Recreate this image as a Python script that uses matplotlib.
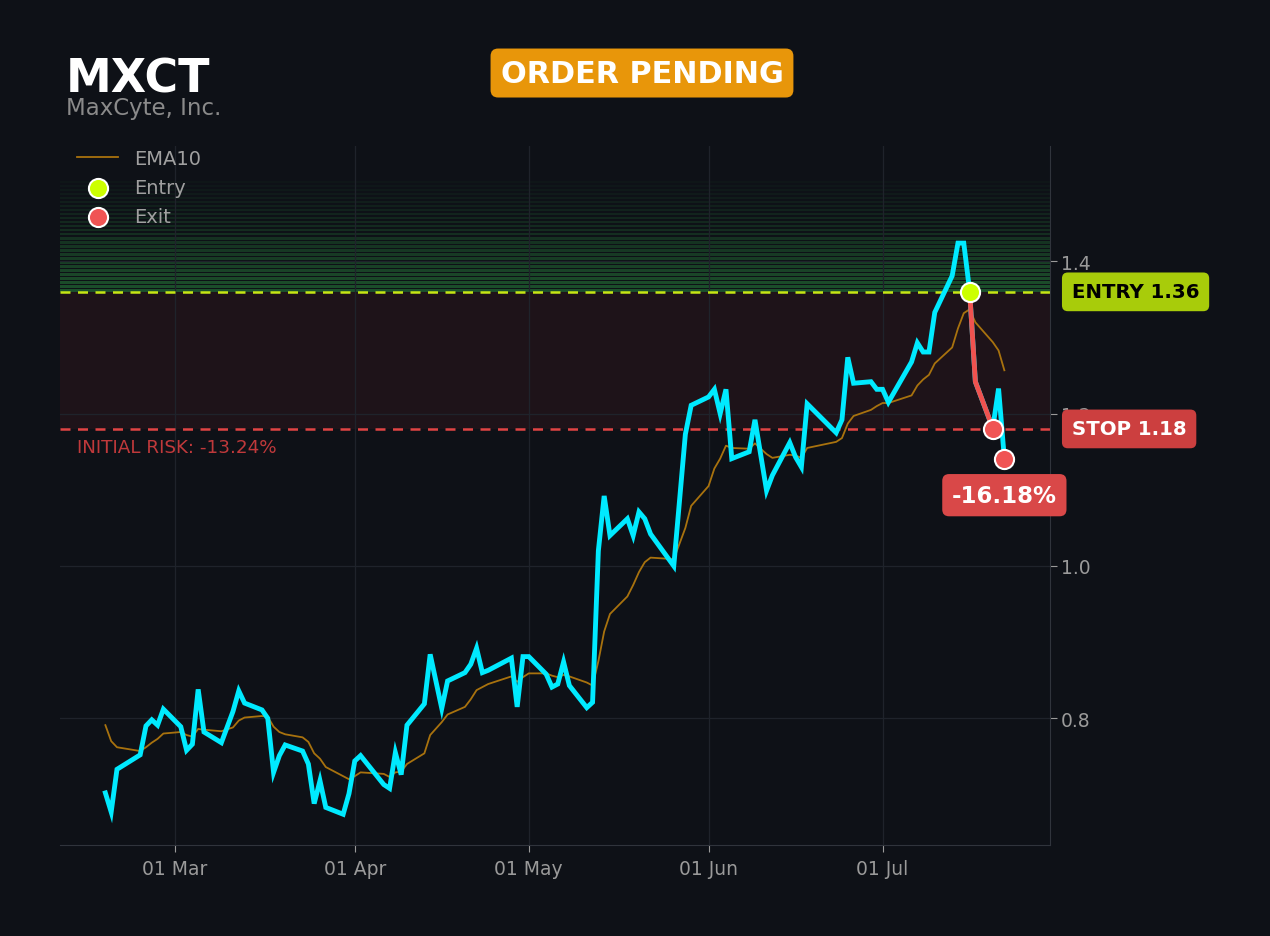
import numpy as np
import pandas as pd
import matplotlib
matplotlib.use("Agg")
import matplotlib.pyplot as plt
import matplotlib.dates as mdates

# --- data (MXCT daily closes + EMA10) ---
dates = ["2026-02-17", "2026-02-18", "2026-02-19", "2026-02-23", "2026-02-24", "2026-02-25",
         "2026-02-26", "2026-02-27", "2026-03-02", "2026-03-03", "2026-03-04", "2026-03-05",
         "2026-03-06", "2026-03-09", "2026-03-11", "2026-03-12", "2026-03-13", "2026-03-16",
         "2026-03-17", "2026-03-18", "2026-03-19", "2026-03-20", "2026-03-23", "2026-03-24",
         "2026-03-25", "2026-03-26", "2026-03-27", "2026-03-30", "2026-03-31", "2026-04-01",
         "2026-04-02", "2026-04-06", "2026-04-07", "2026-04-08", "2026-04-09", "2026-04-10",
         "2026-04-13", "2026-04-14", "2026-04-16", "2026-04-17", "2026-04-20", "2026-04-21",
         "2026-04-22", "2026-04-23", "2026-04-24", "2026-04-28", "2026-04-29", "2026-04-30",
         "2026-05-01", "2026-05-04", "2026-05-05", "2026-05-06", "2026-05-07", "2026-05-08",
         "2026-05-11", "2026-05-12", "2026-05-13", "2026-05-14", "2026-05-15", "2026-05-18",
         "2026-05-19", "2026-05-20", "2026-05-21", "2026-05-22", "2026-05-26", "2026-05-28",
         "2026-05-29", "2026-06-01", "2026-06-02", "2026-06-03", "2026-06-04", "2026-06-05",
         "2026-06-08", "2026-06-09", "2026-06-11", "2026-06-12", "2026-06-15", "2026-06-16",
         "2026-06-17", "2026-06-18", "2026-06-23", "2026-06-24", "2026-06-25", "2026-06-26",
         "2026-06-29", "2026-06-30", "2026-07-01", "2026-07-02", "2026-07-06", "2026-07-07",
         "2026-07-08", "2026-07-09", "2026-07-10", "2026-07-13", "2026-07-14", "2026-07-15",
         "2026-07-16", "2026-07-17", "2026-07-20", "2026-07-21", "2026-07-22"]

close = [0.702, 0.677, 0.733, 0.752, 0.790, 0.798, 0.791, 0.812, 0.789, 0.758, 0.766, 0.838,
         0.782, 0.768, 0.809, 0.836, 0.820, 0.811, 0.800, 0.729, 0.751, 0.765, 0.757, 0.740,
         0.688, 0.718, 0.683, 0.674, 0.701, 0.744, 0.751, 0.713, 0.708, 0.755, 0.726, 0.791,
         0.819, 0.884, 0.813, 0.849, 0.860, 0.871, 0.892, 0.860, 0.863, 0.879, 0.815, 0.881,
         0.881, 0.858, 0.841, 0.845, 0.874, 0.843, 0.814, 0.821, 1.020, 1.092, 1.040, 1.062,
         1.040, 1.071, 1.062, 1.042, 1.000, 1.173, 1.211, 1.222, 1.232, 1.200, 1.232, 1.141,
         1.150, 1.192, 1.099, 1.119, 1.162, 1.143, 1.130, 1.213, 1.175, 1.192, 1.274, 1.240,
         1.242, 1.232, 1.232, 1.215, 1.268, 1.293, 1.281, 1.281, 1.333, 1.381, 1.424, 1.424,
         1.362, 1.242, 1.181, 1.233, 1.141]

ema10 = [0.791, 0.770, 0.762, 0.757, 0.762, 0.768, 0.773, 0.780, 0.782, 0.778, 0.776, 0.786,
         0.785, 0.783, 0.788, 0.797, 0.801, 0.803, 0.802, 0.789, 0.782, 0.779, 0.775, 0.769,
         0.754, 0.747, 0.736, 0.724, 0.720, 0.724, 0.729, 0.727, 0.723, 0.729, 0.730, 0.740,
         0.754, 0.778, 0.795, 0.805, 0.815, 0.825, 0.837, 0.841, 0.845, 0.855, 0.848, 0.854,
         0.859, 0.859, 0.856, 0.854, 0.857, 0.855, 0.847, 0.843, 0.875, 0.914, 0.937, 0.960,
         0.975, 0.992, 1.005, 1.011, 1.009, 1.050, 1.079, 1.105, 1.128, 1.141, 1.158, 1.155,
         1.154, 1.161, 1.147, 1.142, 1.146, 1.145, 1.142, 1.155, 1.163, 1.168, 1.187, 1.197,
         1.205, 1.210, 1.214, 1.214, 1.224, 1.237, 1.245, 1.251, 1.266, 1.287, 1.312, 1.332,
         1.337, 1.320, 1.294, 1.283, 1.257]

ticker = "MXCT"
company = "MaxCyte, Inc."
entry_price = 1.36
stop_price = 1.18
entry_date = "2026-07-16"
exit_dates = ["2026-07-20", "2026-07-22"]
exit_prices = [1.18, 1.14]
trade_dates = ["2026-07-16", "2026-07-17", "2026-07-20"]
trade_prices = [1.362, 1.242, 1.181]

dates = pd.to_datetime(dates)
BG = "#0e1117"

fig = plt.figure(figsize=(12.7, 9.37), dpi=100, facecolor=BG)
ax = fig.add_axes([0.0472, 0.0971, 0.7796, 0.7460])
ax.set_facecolor(BG)

# target zone: faded green stripes above entry
n_bands = 28
zone_top = 1.508
edges = np.linspace(entry_price, zone_top, n_bands + 1)
for i in range(n_bands):
    a = 0.42 * (1 - i / n_bands) ** 1.2 + 0.03
    ax.axhspan(edges[i], edges[i + 1] - 0.0022, color="#2e9e44", alpha=a, lw=0, zorder=0)

# risk zone between stop and entry
ax.axhspan(stop_price, entry_price, color="#dc3232", alpha=0.08, lw=0, zorder=0)

ax.axhline(entry_price, color="#c6e614", lw=1.8, ls=(0, (4, 3)), zorder=2)
ax.axhline(stop_price, color="#e04444", lw=1.8, ls=(0, (4, 3)), zorder=2)

ax.plot(dates, ema10, color="#a8720e", lw=1.3, label="EMA10", zorder=3)
ax.plot(dates, close, color="#00eaff", lw=3.5, zorder=4, solid_joinstyle="miter")
ax.plot(pd.to_datetime(trade_dates), trade_prices, color="#f0524f", lw=3.5, zorder=5)

ax.scatter(pd.to_datetime([entry_date]), [entry_price], s=190, color="#ccff00",
           edgecolors="white", linewidths=1.5, zorder=6, label="Entry")
ax.scatter(pd.to_datetime(exit_dates), exit_prices, s=190, color="#f05454",
           edgecolors="white", linewidths=1.5, zorder=6, label="Exit")

ax.set_ylim(0.6336, 1.5515)
ax.set_xlim(pd.Timestamp("2026-02-09 04:00"), pd.Timestamp("2026-07-29 21:00"))

ax.yaxis.tick_right()
ax.set_yticks([0.8, 1.0, 1.2, 1.4])
ax.xaxis.set_major_locator(mdates.MonthLocator())
ax.xaxis.set_major_formatter(mdates.DateFormatter("%d %b"))
ax.tick_params(colors="#9a9a9a", labelsize=13.5, length=5, width=0.8)
ax.tick_params(axis="y", pad=3)
ax.tick_params(axis="x", pad=5)
ax.grid(True, color="#1f232b", lw=0.9)
ax.set_axisbelow(True)
for s in ["left", "top"]:
    ax.spines[s].set_visible(False)
for s in ["right", "bottom"]:
    ax.spines[s].set_color("#30343c")

leg = ax.legend(loc="upper left", bbox_to_anchor=(0.0, 1.021), frameon=False,
                fontsize=14, labelcolor="#a0a0a0", handlelength=2.1, borderpad=0.4,
                labelspacing=0.52, handletextpad=0.8)

# right-side price tags
ax.text(1.022, entry_price, "ENTRY 1.36", transform=ax.get_yaxis_transform(),
        ha="left", va="center", fontsize=14.2, fontweight="bold", color="black",
        bbox=dict(boxstyle="round,pad=0.5,rounding_size=0.3", fc="#a8cc0a", ec="none"))
ax.text(1.022, stop_price, "STOP 1.18", transform=ax.get_yaxis_transform(),
        ha="left", va="center", fontsize=14.2, fontweight="bold", color="white",
        bbox=dict(boxstyle="round,pad=0.5,rounding_size=0.3", fc="#cc3f3f", ec="none"))

ax.text(pd.Timestamp("2026-07-22"), 1.093, "-16.18%", ha="center", va="center",
        fontsize=16.5, fontweight="bold", color="white", zorder=7,
        bbox=dict(boxstyle="round,pad=0.42,rounding_size=0.3", fc="#d94848", ec="none"))

ax.text(0.017, stop_price - 0.012, "INITIAL RISK: -13.24%", transform=ax.get_yaxis_transform(),
        ha="left", va="top", fontsize=13.2, color="#c0393b")

fig.text(0.052, 0.915, ticker, fontsize=33, fontweight="bold", color="white", va="center")
fig.text(0.052, 0.884, company, fontsize=16.5, color="#8a8a8a", va="center")
fig.text(0.5055, 0.921, "ORDER PENDING", fontsize=21.8, fontweight="bold", color="white",
         ha="center", va="center",
         bbox=dict(boxstyle="round,pad=0.33,rounding_size=0.25", fc="#e8960a", ec="none"))

fig.savefig("out.png", dpi=100, facecolor=BG)
